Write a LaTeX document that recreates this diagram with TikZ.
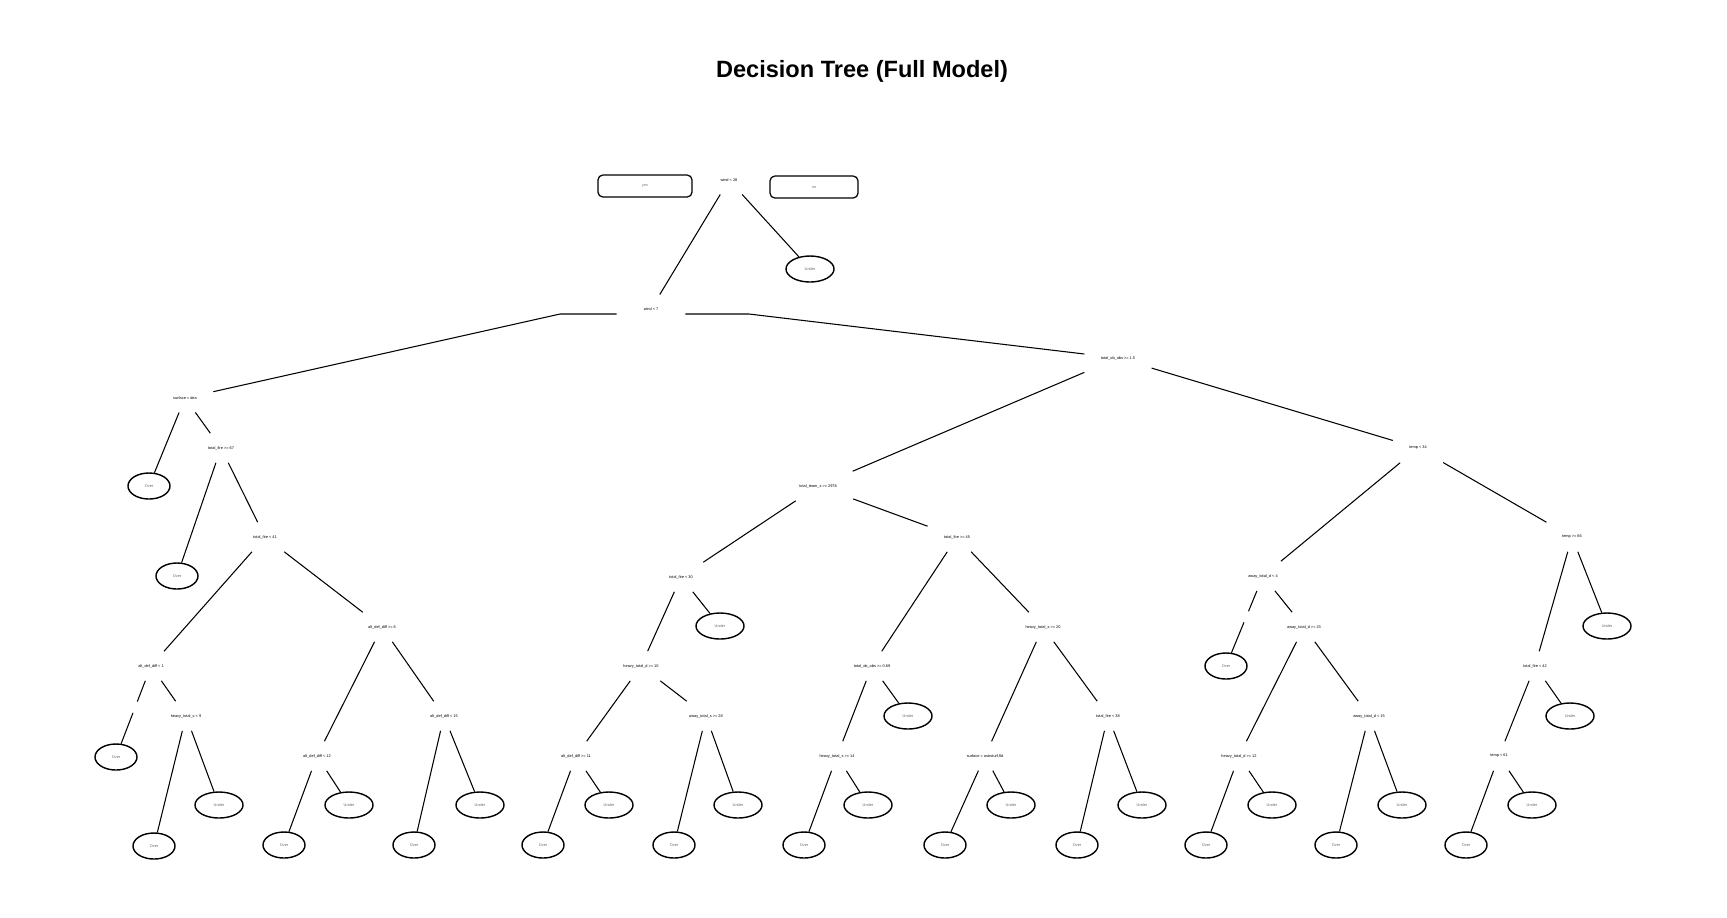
\documentclass[tikz,border=0pt]{standalone}
\usepackage{fontspec}
\setmainfont{Liberation Sans}
\usetikzlibrary{shapes.geometric}

\begin{document}
\begin{tikzpicture}[x=.01cm,y=-.01cm,
  split/.style={inner xsep=4.5pt,inner ysep=3.5pt,font=\fontsize{1.1}{1.3}\selectfont},
  leafbox/.style={ellipse,draw,line width=.4pt,minimum height=.26cm,inner sep=0pt,text=black!60,
    font=\fontsize{1.1}{1.3}\selectfont},
  overleaf/.style={leafbox,minimum width=.42cm},
  underleaf/.style={leafbox,minimum width=.48cm},
  sidebox/.style={draw,line width=.35pt,rounded corners=1.4pt,minimum height=.22cm,inner sep=0pt,text=black!55,font=\fontsize{1.1}{1.3}\selectfont},
  edge/.style={line width=.3pt}]
\useasboundingbox (0,0) rectangle (1727,917);

\node[font=\bfseries\fontsize{6.7}{8}\selectfont] (title) at (862,71) {Decision Tree (Full Model)};

% top of the tree
\node[split] (root) at (729,180) {wind < 28};
\node[sidebox,minimum width=.94cm] (yesbox) at (645,186) {yes};
\node[sidebox,minimum width=.88cm] (nobox) at (814,187) {no};
\node[underleaf] (u0) at (810,269) {Under};
\node[split,inner xsep=7.5pt] (w7) at (651,309) {wind < 7};
\node[split] (obs15) at (1118,358) {total\_ob\_obs >= 1.5};
\coordinate (w7l) at (560,314);
\coordinate (w7r) at (749,314);

% left part
\node[split] (surf) at (185,398) {surface = dea};
\node[overleaf] (o1) at (149,486) {Over};
\node[split] (tf67) at (221,448) {total\_fire >= 67};
\node[overleaf] (o2) at (177,576) {Over};
\node[split] (tf41) at (265,537) {total\_fire < 41};
\node[split] (ad6) at (382,627) {alt\_def\_diff >= 6};
\node[split] (ad1) at (151,666) {alt\_def\_diff < 1};
\node[overleaf] (o3) at (116,757) {Over};
\node[split] (hs9) at (186,716) {heavy\_total\_s < 9};
\node[overleaf] (o4) at (154,846) {Over};
\node[underleaf] (u4) at (219,805) {Under};
\node[split] (ad12) at (317,756) {alt\_def\_diff < 12};
\node[overleaf] (o5) at (284,845) {Over};
\node[underleaf] (u5) at (349,805) {Under};
\node[split] (ad15) at (444,716) {alt\_def\_diff < 15};
\node[overleaf] (o6) at (414,845) {Over};
\node[underleaf] (u6) at (480,805) {Under};

% middle part
\node[split] (ts2978) at (818,486) {total\_team\_s >= 2978};
\node[split] (tf30) at (681,577) {total\_fire < 30};
\node[underleaf] (u7) at (720,626) {Under};
\node[split] (hd10) at (641,666) {heavy\_total\_d >= 10};
\node[split] (ad11) at (576,756) {alt\_def\_diff >= 11};
\node[overleaf] (o8) at (543,845) {Over};
\node[underleaf] (u8) at (609,805) {Under};
\node[split] (as28) at (706,716) {away\_total\_s >= 28};
\node[overleaf] (o9) at (674,845) {Over};
\node[underleaf] (u9) at (738,805) {Under};
\node[split] (tf45) at (957,537) {total\_fire >= 45};
\node[split] (obs069) at (872,666) {total\_ob\_obs >= 0.69};
\node[underleaf] (u10) at (908,716) {Under};
\node[split] (hs14) at (837,756) {heavy\_total\_s >= 14};
\node[overleaf] (o11) at (804,845) {Over};
\node[underleaf] (u11) at (868,805) {Under};
\node[split] (hs20) at (1043,627) {heavy\_total\_s >= 20};
\node[split] (surf2) at (985,756) {surface = astroturf,fld};
\node[overleaf] (o12) at (945,845) {Over};
\node[underleaf] (u12) at (1011,805) {Under};
\node[split] (tf38) at (1108,716) {total\_fire < 38};
\node[overleaf] (o13) at (1077,845) {Over};
\node[underleaf] (u13) at (1142,805) {Under};

% right part
\node[split] (temp34) at (1418,448) {temp < 34};
\node[split] (ad4) at (1263,576) {away\_total\_d < 4};
\node[overleaf] (o14) at (1226,666) {Over};
\node[split] (ad23) at (1304,627) {away\_total\_d >= 23};
\node[split] (hd12) at (1239,756) {heavy\_total\_d >= 12};
\node[overleaf] (o15) at (1206,845) {Over};
\node[underleaf] (u15) at (1272,805) {Under};
\node[split] (ad15b) at (1369,716) {away\_total\_d < 15};
\node[overleaf] (o16) at (1336,845) {Over};
\node[underleaf] (u16) at (1402,805) {Under};
\node[split] (temp66) at (1572,537) {temp >= 66};
\node[underleaf] (u17) at (1607,626) {Under};
\node[split] (tf42) at (1535,666) {total\_fire < 42};
\node[underleaf] (u18) at (1570,716) {Under};
\node[split] (temp61) at (1499,756) {temp < 61};
\node[overleaf] (o19) at (1466,845) {Over};
\node[underleaf] (u19) at (1532,805) {Under};

% branches
\draw[edge] (w7l -| w7.west) -- (w7l) -- (surf);
\draw[edge] (w7r -| w7.east) -- (w7r) -- (obs15);
\foreach \p/\c in {root/w7,root/u0,surf/o1,surf/tf67,tf67/o2,tf67/tf41,tf41/ad1,tf41/ad6,
  ad1/hs9,hs9/o4,hs9/u4,ad6/ad12,ad6/ad15,ad12/o5,ad12/u5,ad15/o6,ad15/u6,
  obs15/ts2978,obs15/temp34,ts2978/tf30,ts2978/tf45,tf30/hd10,tf30/u7,hd10/ad11,hd10/as28,
  ad11/o8,ad11/u8,as28/o9,as28/u9,tf45/obs069,tf45/hs20,obs069/hs14,obs069/u10,
  hs14/o11,hs14/u11,hs20/surf2,hs20/tf38,surf2/o12,surf2/u12,tf38/o13,tf38/u13,
  temp34/ad4,temp34/temp66,ad4/ad23,ad23/hd12,ad23/ad15b,hd12/o15,hd12/u15,
  ad15b/o16,ad15b/u16,temp66/tf42,temp66/u17,tf42/temp61,tf42/u18,temp61/o19,temp61/u19}
  \draw[edge] (\p) -- (\c);
% two branches with a break
\path (ad1) -- coordinate[pos=.33] (g1a) coordinate[pos=.51] (g1b) (o3);
\draw[edge] (ad1) -- (g1a) (g1b) -- (o3);
\path (ad4) -- coordinate[pos=.33] (g2a) coordinate[pos=.51] (g2b) (o14);
\draw[edge] (ad4) -- (g2a) (g2b) -- (o14);
\end{tikzpicture}
\end{document}
